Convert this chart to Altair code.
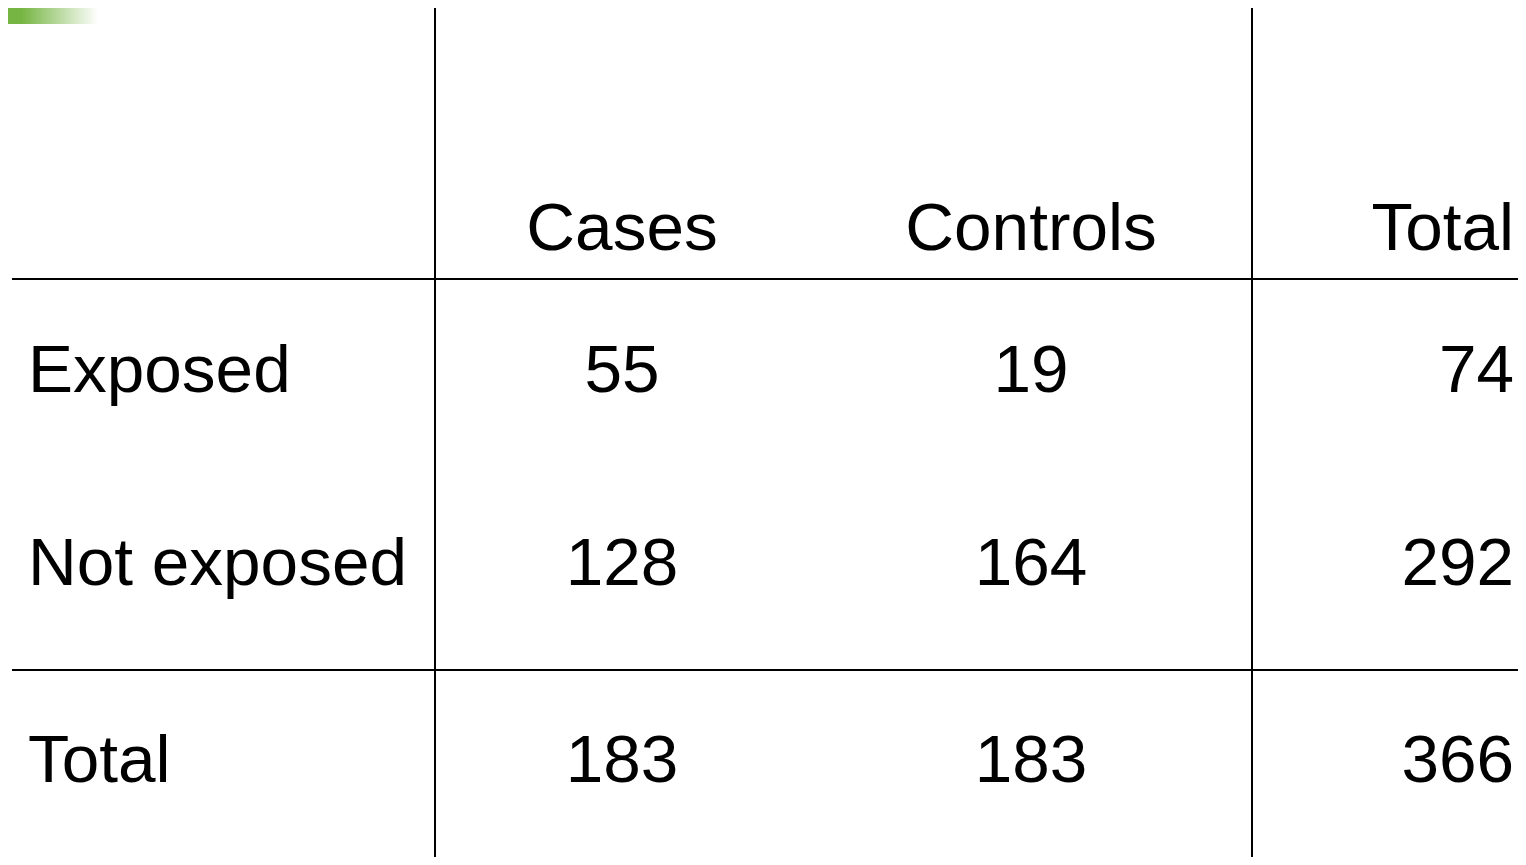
import altair as alt
import pandas as pd

# Table content
row_labels = ["Exposed", "Not exposed", "Total"]
col_labels = ["Cases", "Controls", "Total"]
cases = [55, 128, 183]
controls = [19, 164, 183]
totals = [74, 292, 366]

row_keys = ["header"] + row_labels
col_keys = ["label", "Cases", "Controls", "Total"]

# Build long-form tables
label_df = pd.DataFrame({"row": row_labels, "col": ["label"] * 3, "text": row_labels})
header_df = pd.DataFrame({"row": ["header"] * 3, "col": col_labels, "text": col_labels})
mid_rows = []
for r, a, b in zip(row_labels, cases, controls):
    mid_rows.append({"row": r, "col": "Cases", "text": str(a)})
    mid_rows.append({"row": r, "col": "Controls", "text": str(b)})
mid_df = pd.DataFrame(mid_rows)
tot_df = pd.DataFrame({"row": row_labels, "col": ["Total"] * 3, "text": [str(t) for t in totals]})

W, H = 1510, 849
FONT = "Liberation Sans, Arial, Helvetica, sans-serif"
FS = 67.5

col_expr = "indexof(" + str(col_keys) + ", datum.col)"
row_expr = "indexof(" + str(row_keys) + ", datum.row)"

xs = alt.Scale(domain=[0, 1, 2, 3], range=[20, 614, 1023, 1506], zero=False, nice=False)
ys = alt.Scale(domain=[0, 1, 2, 3], range=[242, 384, 577, 774], zero=False, nice=False)

def text_layer(df, align):
    return alt.Chart(df).transform_calculate(
        ci=col_expr, ri=row_expr
    ).mark_text(
        align=align, baseline="alphabetic", font=FONT, fontSize=FS, color="#000000"
    ).encode(
        x=alt.X("ci:Q", scale=xs, axis=None),
        y=alt.Y("ri:Q", scale=ys, axis=None),
        text="text:N",
    )

labels = text_layer(label_df, "left")
headers_mid = text_layer(header_df[header_df["col"] != "Total"], "center")
headers_tot = text_layer(header_df[header_df["col"] == "Total"], "right")
mids = text_layer(mid_df, "center")
tots = text_layer(tot_df, "right")

base = alt.Chart(pd.DataFrame({"k": [0]}))

hline1 = base.mark_rule(color="#000000", strokeWidth=2).encode(
    x=alt.value(4), x2=alt.value(W), y=alt.value(271))
hline2 = base.mark_rule(color="#000000", strokeWidth=2).encode(
    x=alt.value(4), x2=alt.value(W), y=alt.value(662))
vline1 = base.mark_rule(color="#000000", strokeWidth=2).encode(
    x=alt.value(427), y=alt.value(0), y2=alt.value(H))
vline2 = base.mark_rule(color="#000000", strokeWidth=2).encode(
    x=alt.value(1244), y=alt.value(0), y2=alt.value(H))

green = base.mark_rect(
    fill=alt.Gradient(
        gradient="linear",
        stops=[
            alt.GradientStop(color="#76B543", offset=0),
            alt.GradientStop(color="#76B543", offset=0.15),
            alt.GradientStop(color="#FFFFFF", offset=1),
        ],
        x1=0, x2=1, y1=0, y2=0,
    )
).encode(x=alt.value(0), x2=alt.value(90), y=alt.value(0), y2=alt.value(16))

chart = alt.layer(
    green, hline1, hline2, vline1, vline2,
    labels, headers_mid, headers_tot, mids, tots,
).properties(
    width=W, height=H, padding=0, autosize=alt.AutoSizeParams(type="none"),
    view=alt.ViewBackground(strokeOpacity=0, strokeWidth=0, stroke="transparent"),
).configure_view(stroke="transparent", strokeWidth=0, strokeOpacity=0).configure(background="#ffffff")

chart.save("out.html", embed_options={"renderer": "svg", "actions": False})
